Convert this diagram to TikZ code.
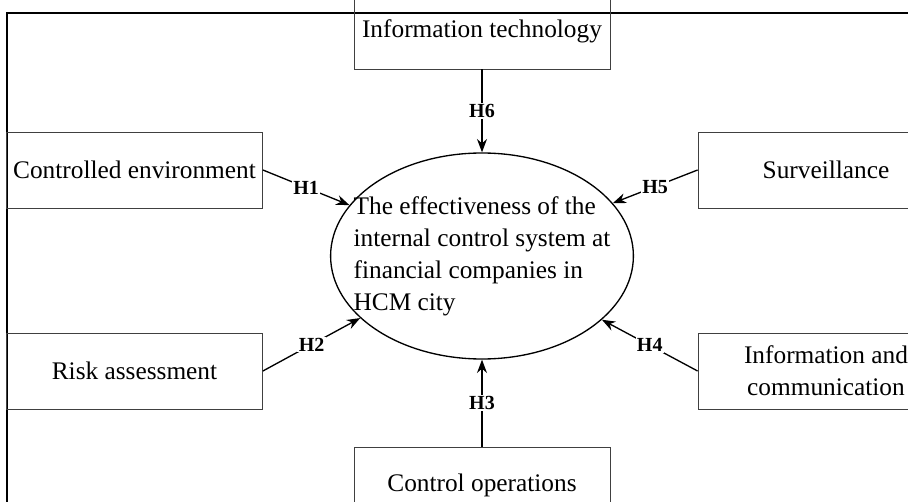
\documentclass[tikz,border=0pt]{standalone}
\usepackage{fontspec}
\setmainfont{Liberation Serif}
\usetikzlibrary{shapes.geometric,arrows.meta}

\begin{document}
\begin{tikzpicture}[x=0.75pt, y=-0.75pt,
    factor/.style={draw=black!75, line width=0.6pt, minimum width=192pt, minimum height=57pt, inner sep=0pt, align=center, font=\fontsize{19}{24}\selectfont},
    outcome/.style={ellipse, draw, line width=1pt, minimum width=226.5pt, minimum height=154.5pt, inner xsep=-16pt, inner ysep=0pt, align=left, font=\fontsize{19}{24}\selectfont},
    hyp/.style={draw, line width=1pt, -{Stealth[length=10pt, width=7.5pt]}},
    hlabel/.style={fill=white, inner sep=1pt, font=\fontsize{15}{15}\selectfont\bfseries}]
            \clip (0,0) rectangle (908,502);
            \draw[line width=0.9pt] (7,530) -- (7,13) -- (930,13);

            \node (it) at (482,31) [factor] {Information technology};
            \node (ce) at (134.5,170) [factor] {Controlled environment};
            \node (sv) at (826,170) [factor] {Surveillance};
            \node (ra) at (134.5,371) [factor] {Risk assessment};
            \node (ic) at (826,371) [factor] {Information and\\communication};
            \node (co) at (482,485) [factor] {Control operations};

            \node (ell) at (482,256) [outcome] {The effectiveness of the\\internal control system at\\financial companies in\\HCM city};

            \draw[hyp] (ce.east) -- node[hlabel] {H1} (ell.159);
            \draw[hyp] (ra.east) -- node[hlabel] {H2} (ell.207);
            \draw[hyp] (co.north) -- node[hlabel] {H3} (ell.south);
            \draw[hyp] (ic.west) -- node[hlabel] {H4} (ell.332);
            \draw[hyp] (sv.west) -- node[hlabel] {H5} (ell.22);
            \draw[hyp] (it.south) -- node[hlabel] {H6} (ell.north);
        \end{tikzpicture}
\end{document}
